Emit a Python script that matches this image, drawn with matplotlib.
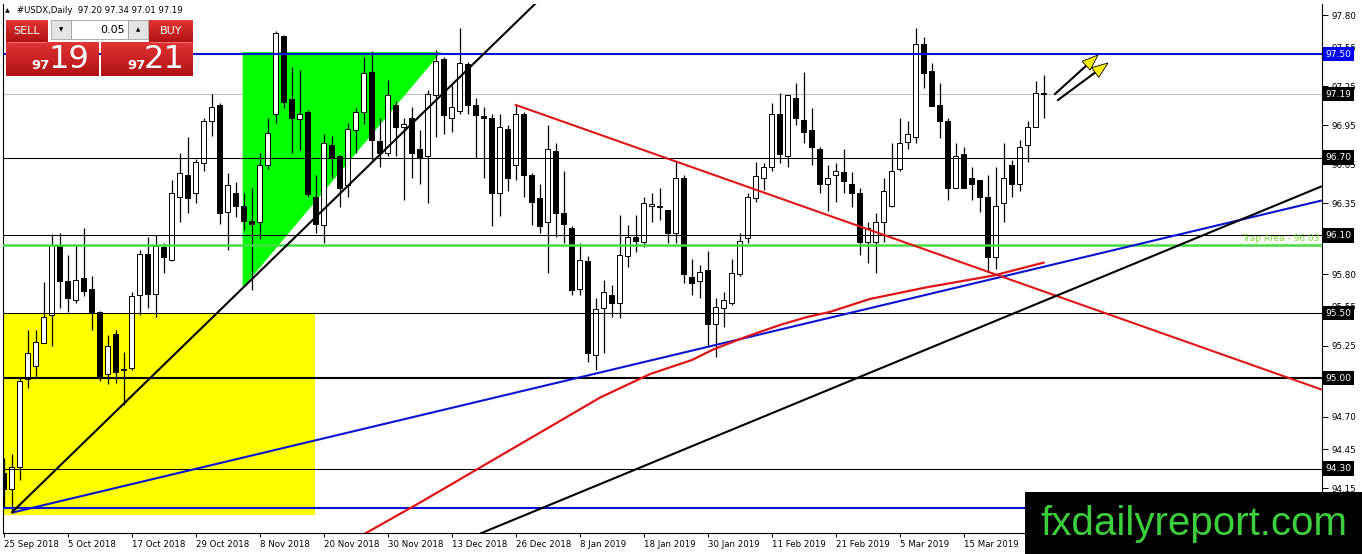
import numpy as np
import matplotlib
matplotlib.use("Agg")
import matplotlib.pyplot as plt
from matplotlib.patches import Rectangle, Polygon
from matplotlib.colors import LinearSegmentedColormap

# --- daily USDX candles, 25 Sep 2018 .. 29 Mar 2019 ---
opens = [94.27, 94.14, 94.31, 94.99, 95.09, 95.27, 95.49, 96.03, 95.75, 95.60,
         95.77, 95.69, 95.51, 95.03, 95.34, 95.06, 95.08, 95.64, 95.96, 95.65,
         96.01, 95.91, 96.40, 96.57, 96.43, 96.66, 96.98, 97.11, 96.28, 96.43,
         96.33, 96.21, 96.20, 96.64, 97.04, 97.64, 97.15, 97.00, 97.05, 96.40,
         96.18, 96.80, 96.71, 96.49, 96.91, 97.05, 97.36, 96.83, 96.74, 97.11,
         96.94, 97.01, 96.77, 96.71, 97.18, 97.46, 97.01, 97.06, 97.42, 97.11,
         97.02, 97.01, 96.43, 96.92, 96.64, 97.04, 96.57, 96.39, 96.20, 96.75,
         96.27, 96.16, 95.69, 95.90, 95.18, 95.54, 95.64, 95.58, 95.94, 96.09,
         96.05, 96.33, 96.33, 96.30, 96.12, 96.54, 95.78, 95.75, 95.83, 95.42,
         95.54, 95.58, 95.80, 96.08, 96.39, 96.54, 96.63, 97.04, 96.71, 97.16,
         96.99, 96.91, 96.77, 96.50, 96.57, 96.59, 96.50, 96.43, 96.05, 96.05,
         96.20, 96.33, 96.61, 96.82, 96.86, 97.58, 97.37, 97.11, 96.98, 96.47,
         96.73, 96.54, 96.53, 96.40, 95.93, 96.35, 96.64, 96.50, 96.80, 96.94,
         97.20]
highs = [94.38, 94.41, 95.01, 95.37, 95.37, 95.74, 96.11, 96.12, 95.95, 96.03,
         96.16, 95.79, 95.52, 95.33, 95.37, 95.20, 95.66, 95.99, 96.09, 96.10,
         96.04, 96.53, 96.74, 96.86, 96.69, 97.01, 97.19, 97.12, 96.58, 96.51,
         96.43, 96.47, 96.74, 97.01, 97.68, 97.65, 97.40, 97.38, 97.07, 96.57,
         96.88, 96.87, 96.72, 96.97, 97.08, 97.48, 97.52, 97.01, 97.30, 97.14,
         97.01, 97.09, 96.91, 97.22, 97.53, 97.48, 97.26, 97.70, 97.44, 97.16,
         97.09, 97.04, 97.04, 96.95, 97.11, 97.05, 96.58, 96.50, 96.95, 96.81,
         96.60, 96.17, 96.04, 95.94, 95.62, 95.76, 95.72, 96.26, 96.18, 96.26,
         96.40, 96.43, 96.47, 96.30, 96.67, 96.57, 95.92, 95.87, 95.98, 95.62,
         95.66, 95.92, 96.12, 96.43, 96.67, 96.66, 97.12, 97.20, 97.18, 97.28,
         97.36, 97.08, 96.78, 96.64, 96.66, 96.77, 96.59, 96.47, 96.20, 96.27,
         96.54, 96.81, 97.01, 96.98, 97.70, 97.63, 97.43, 97.28, 97.01, 96.81,
         96.78, 96.63, 96.53, 96.57, 96.63, 96.81, 96.68, 96.84, 96.98, 97.29,
         97.34]
lows = [94.00, 93.96, 94.21, 94.92, 95.01, 95.27, 95.25, 95.54, 95.51, 95.58,
        95.63, 95.37, 94.98, 94.95, 94.96, 94.79, 95.06, 95.49, 95.54, 95.47,
        95.81, 95.90, 96.20, 96.27, 96.35, 96.60, 96.87, 96.19, 95.99, 96.24,
        96.14, 95.68, 96.07, 96.61, 96.97, 97.08, 96.74, 96.76, 96.40, 96.12,
        96.04, 96.54, 96.32, 96.40, 96.74, 96.96, 96.68, 96.63, 96.71, 96.71,
        96.37, 96.54, 96.50, 96.35, 96.86, 96.88, 96.90, 97.04, 97.04, 96.70,
        96.54, 96.17, 96.25, 96.44, 96.53, 96.40, 96.18, 96.12, 95.81, 96.09,
        96.04, 95.64, 95.64, 95.12, 95.06, 95.19, 95.47, 95.46, 95.86, 95.97,
        96.01, 96.20, 96.22, 96.04, 96.04, 95.73, 95.64, 95.62, 95.24, 95.16,
        95.39, 95.56, 95.79, 96.04, 96.36, 96.45, 96.60, 96.66, 96.63, 96.95,
        96.81, 96.64, 96.43, 96.29, 96.36, 96.43, 96.32, 95.95, 95.89, 95.81,
        96.05, 96.32, 96.60, 96.77, 96.81, 97.24, 97.10, 96.85, 96.37, 96.47,
        96.47, 96.37, 96.28, 95.82, 95.84, 96.20, 96.40, 96.44, 96.67, 96.94,
        97.01]
closes = [94.14, 94.31, 94.98, 95.19, 95.28, 95.47, 96.03, 95.75, 95.62, 95.76,
          95.67, 95.51, 95.00, 95.25, 95.05, 95.07, 95.63, 95.96, 95.65, 96.02,
          95.93, 96.43, 96.58, 96.39, 96.67, 96.98, 97.09, 96.27, 96.49, 96.33,
          96.21, 96.19, 96.64, 96.89, 97.66, 97.13, 97.01, 97.04, 96.42, 96.19,
          96.81, 96.70, 96.47, 96.92, 97.05, 97.35, 96.84, 96.74, 97.18, 96.94,
          96.96, 96.74, 96.70, 97.19, 97.45, 97.03, 97.09, 97.43, 97.11, 97.03,
          97.01, 96.43, 96.94, 96.54, 97.04, 96.57, 96.36, 96.17, 96.77, 96.27,
          96.19, 95.68, 95.91, 95.19, 95.53, 95.66, 95.58, 95.95, 96.09, 96.06,
          96.35, 96.34, 96.32, 96.12, 96.54, 95.80, 95.73, 95.82, 95.42, 95.55,
          95.60, 95.81, 96.06, 96.40, 96.56, 96.63, 97.04, 96.73, 97.18, 97.01,
          96.90, 96.78, 96.50, 96.54, 96.60, 96.52, 96.43, 96.05, 96.16, 96.20,
          96.44, 96.60, 96.81, 96.88, 97.58, 97.35, 97.10, 96.98, 96.47, 96.71,
          96.47, 96.50, 96.40, 95.93, 96.33, 96.54, 96.50, 96.78, 96.94, 97.20,
          97.19]

date_labels = ["25 Sep 2018", "5 Oct 2018", "17 Oct 2018", "29 Oct 2018",
               "8 Nov 2018", "20 Nov 2018", "30 Nov 2018", "13 Dec 2018",
               "26 Dec 2018", "8 Jan 2019", "18 Jan 2019", "30 Jan 2019",
               "11 Feb 2019", "21 Feb 2019", "5 Mar 2019", "15 Mar 2019"]
label_step = 8

y_tick_values = [97.80, 97.55, 97.25, 96.95, 96.65, 96.35, 95.80,
                 95.55, 95.25, 94.70, 94.45, 94.15]

# horizontal levels
black_levels = [96.70, 96.10, 95.50, 94.30]
strong_level = 95.00
blue_levels = [97.50, 94.00]
trap_level = 96.03
last_price = 97.19

# trendlines as (bar, price) anchor pairs
black_trend_1 = [(1, 93.96), (70, 98.10)]
blue_trend = [(1, 93.96), (164.8, 96.37)]
black_trend_2 = [(59.6, 93.80), (164.8, 96.48)]
red_trend = [(63.9, 97.11), (164.8, 94.91)]

# moving average (red curve), read points
ma_bars = [45.2, 52.1, 59.6, 67.1, 74.6, 80.8, 86.1, 88.7, 92.9, 97.1,
           100.4, 103.3, 108.3, 115.4, 123.7, 130]
ma_prices = [93.80, 94.04, 94.31, 94.58, 94.85, 95.03, 95.14, 95.22, 95.32,
             95.41, 95.47, 95.51, 95.61, 95.70, 95.79, 95.89]

# zones
yellow_zone = dict(x0=-1, x1=38.9, y0=93.94, y1=95.50)
green_triangle = [(29.9, 97.515), (54.7, 97.515), (29.9, 95.695)]

W, H = 1362, 554
BLUE = "#0a14d2"
RED = "#e01515"

fig = plt.figure(figsize=(W / 100, H / 100), dpi=100)
fig.patch.set_facecolor("white")
ax = fig.add_axes([2.5 / W, (H - 533) / H, (1322 - 2.5) / W, (533 - 4) / H])
ax.set_xlim(-0.125, 164.81)
ax.set_ylim(93.804, 97.886)

# zones (background objects)
ax.add_patch(Rectangle((yellow_zone["x0"], yellow_zone["y0"]),
                       yellow_zone["x1"] - yellow_zone["x0"],
                       yellow_zone["y1"] - yellow_zone["y0"],
                       facecolor="#ffff00", edgecolor="none", zorder=1))
ax.axhline(last_price, color="#c0c0c0", lw=0.8, zorder=0.5)
ax.add_patch(Polygon(green_triangle, closed=True, facecolor="#00ff00",
                     edgecolor="none", zorder=1.2))

# candles
x = np.arange(len(opens))
o = np.array(opens)
c = np.array(closes)
up = c >= o
bottoms = np.minimum(o, c)
heights = np.maximum(np.abs(c - o), 0.006)
ax.vlines(x, lows, highs, color="black", lw=0.9, zorder=2)
ax.bar(x, heights, bottom=bottoms, width=0.6,
       color=np.where(up, "white", "black"), edgecolor="black",
       linewidth=0.7, zorder=3)

# horizontal levels
for lv in black_levels:
    ax.axhline(lv, color="black", lw=0.75, zorder=4)
ax.axhline(strong_level, color="black", lw=1.5, zorder=4)
for lv in blue_levels:
    ax.axhline(lv, color=BLUE, lw=1.5, zorder=4)
ax.axhline(trap_level, color="#44dd44", lw=1.8, zorder=4)
ax.text(0.998, trap_level + 0.012, "Trap Area - 96.03",
        transform=ax.get_yaxis_transform(), ha="right", va="bottom",
        color="#77dd33", fontsize=6.5, zorder=5)

# trendlines
for pts, col in [(blue_trend, BLUE), (red_trend, RED),
                 (black_trend_1, "black"), (black_trend_2, "black")]:
    (x0, y0), (x1, y1) = pts
    ax.plot([x0, x1], [y0, y1], color=col, lw=1.5, zorder=5,
            solid_capstyle="butt")
ax.plot(ma_bars, ma_prices, color=RED, lw=1.6, zorder=5)

# axes styling
ax.spines["top"].set_visible(False)
for side in ["left", "right", "bottom"]:
    ax.spines[side].set_linewidth(0.8)
ax.yaxis.tick_right()
ax.set_yticks(y_tick_values)
ax.set_yticklabels([f"{v:.2f}" for v in y_tick_values])
ax.tick_params(axis="y", length=4, width=0.7, pad=3, labelsize=6.3)
ax.set_xticks(np.arange(len(date_labels)) * label_step)
ax.set_xticklabels(date_labels, ha="left")
ax.tick_params(axis="x", length=3, width=0.7, pad=2, labelsize=6.2)

# price boxes on the right axis
for lv, fc in [(97.50, "#0000ff"), (last_price, "black"), (96.70, "black"),
               (96.10, "black"), (95.50, "black"), (95.00, "black"),
               (94.30, "black")]:
    ax.text(1.0025, lv, f"{lv:.2f}", transform=ax.get_yaxis_transform(),
            ha="left", va="center", color="white", fontsize=6.6,
            bbox=dict(boxstyle="square,pad=0.3", fc=fc, ec="none"),
            clip_on=False, zorder=6)

# overlay in pixel coords: trade panel, arrows, watermark
ov = fig.add_axes([0, 0, 1, 1], zorder=10)
ov.set_xlim(0, W)
ov.set_ylim(H, 0)
ov.axis("off")

red_cmap = LinearSegmentedColormap.from_list("r", ["#e23434", "#b01212"])
grad = np.linspace(0, 1, 50).reshape(-1, 1)


def red_box(x0, y0, x1, y1):
    ov.imshow(grad, cmap=red_cmap, extent=(x0, x1, y1, y0), aspect="auto",
              zorder=11)


red_box(6, 20, 48, 42)
red_box(149, 20, 193, 42)
red_box(6, 42, 99, 76)
red_box(101, 42, 193, 76)
ov.plot([8, 46], [42, 42], color="#f08080", lw=0.6, zorder=12)
ov.plot([151, 191], [42, 42], color="#f08080", lw=0.6, zorder=12)
ov.add_patch(Rectangle((51, 20), 20, 19, fc="#e4e4e4", ec="#a0a0a0", lw=0.6, zorder=11))
ov.add_patch(Rectangle((71, 20), 57, 19, fc="white", ec="#a0a0a0", lw=0.6, zorder=11))
ov.add_patch(Rectangle((128, 20), 20, 19, fc="#e4e4e4", ec="#a0a0a0", lw=0.6, zorder=11))
ov.text(61, 30, "\u25bc", fontsize=4, ha="center", va="center", zorder=12)
ov.text(138, 29.5, "\u25b2", fontsize=4, ha="center", va="center", zorder=12)
ov.text(125, 30, "0.05", fontsize=8, ha="right", va="center", zorder=12)
ov.text(27, 31, "SELL", fontsize=8, color="white", ha="center", va="center", zorder=12)
ov.text(171, 31, "BUY", fontsize=8, color="white", ha="center", va="center", zorder=12)
for bx, big in [(0, "19"), (95, "21")]:
    ov.text(41 + bx, 65.5, "97", fontsize=9.5, fontweight="bold", color="white",
            ha="center", va="center", zorder=12)
    ov.text(69 + bx, 59, big, fontsize=23, color="white",
            ha="center", va="center", zorder=12)

ov.text(7, 10.5, "\u25b2", fontsize=4.5, ha="center", va="center", zorder=12)
ov.text(17, 10.5, "#USDX,Daily  97.20 97.34 97.01 97.19", fontsize=6.1,
        ha="left", va="center", zorder=12)

# arrows: black shaft, yellow head
for (sx, sy), (tx, ty) in [((1055, 94), (1098, 55)), ((1058, 100), (1108, 63))]:
    d = np.array([tx - sx, ty - sy], float)
    u = d / np.linalg.norm(d)
    p = np.array([-u[1], u[0]])
    base = np.array([tx, ty]) - 16 * u
    ov.plot([sx, base[0]], [sy, base[1]], color="black", lw=1.5, zorder=12)
    head = [(tx, ty), tuple(base + 6 * p), tuple(base - 6 * p)]
    ov.add_patch(Polygon(head, closed=True, fc="#ffee00", ec="black", lw=0.6, zorder=13))

ov.add_patch(Rectangle((1025, 492), W - 1025, H - 492, fc="black", ec="none", zorder=14))
ov.text(1040, 535, "fxdailyreport.com", fontsize=29, color="#3ccf3c",
        family="Liberation Sans", ha="left", va="baseline", zorder=15)

fig.savefig("out.png", dpi=100)
